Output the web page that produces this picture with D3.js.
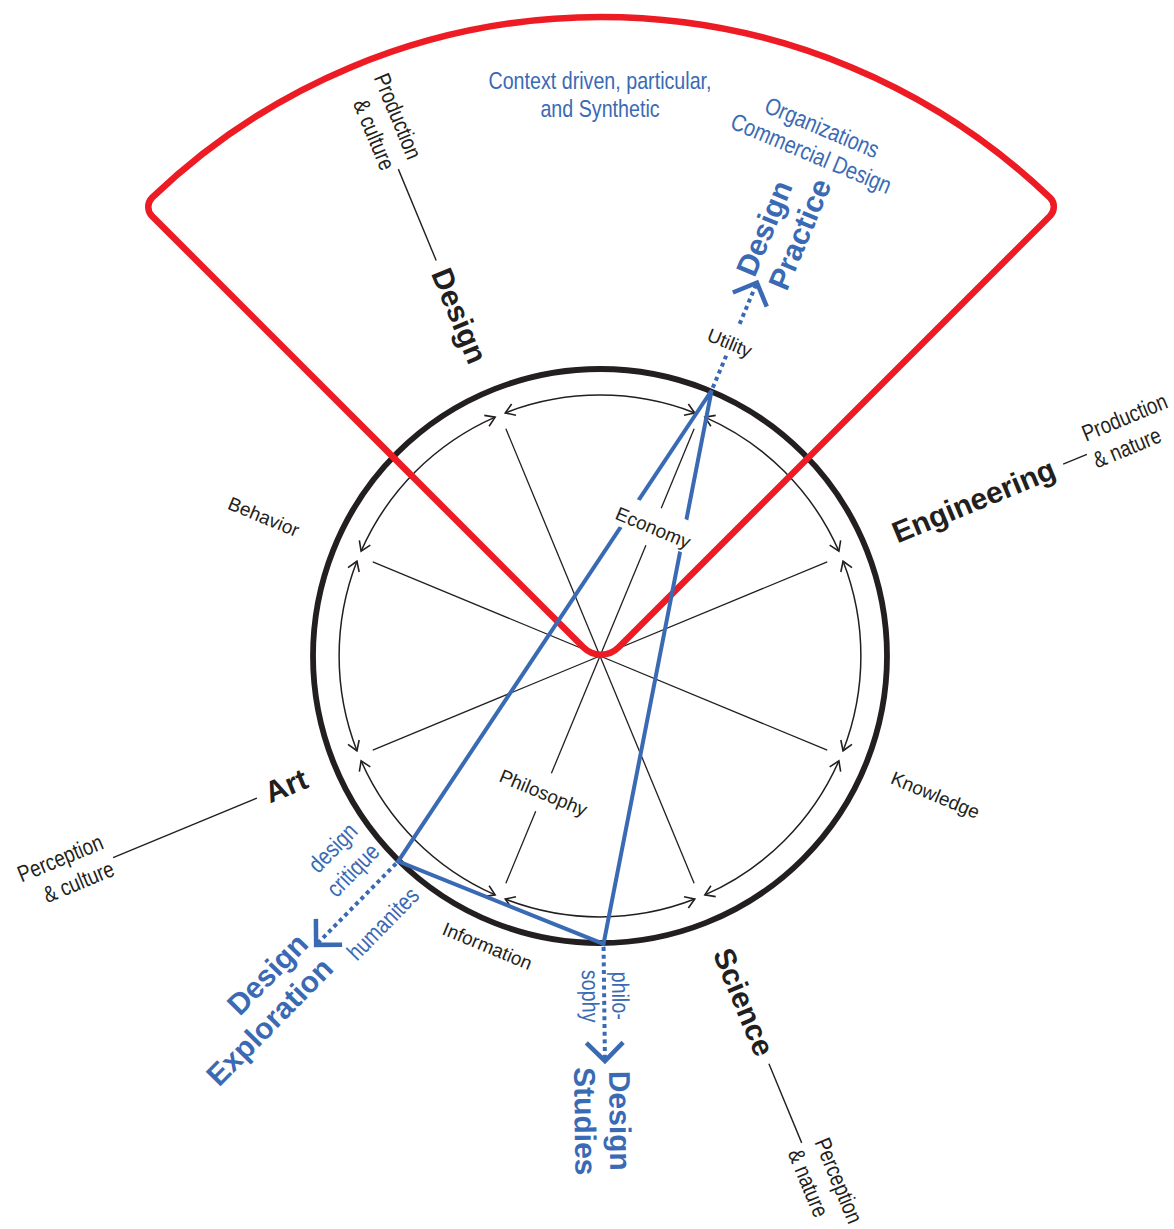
<!DOCTYPE html>
<html>
<head>
<meta charset="utf-8">
<script src="https://cdn.jsdelivr.net/npm/d3@7/dist/d3.min.js"></script>
<style>
html,body{margin:0;padding:0;background:#fff;}
svg{display:block;}
</style>
</head>
<body>
<svg id="chart" width="1174" height="1229"></svg>
<script>
// ---------------- data ----------------
const axisAngles = [22.5, 67.5, 112.5, 157.5, 202.5, 247.5, 292.5, 337.5];
const aspectLabels = ["Utility", "Economy", "Knowledge", "Information", "Philosophy", "Behavior"];
const aspectAngles = [22.5, 22.5, 112.5, 202.5, 202.5, 292.5];
const disciplineNames = ["Design", "Engineering", "Science", "Art"];
const disciplineAngles = [337.5, 67.5, 157.5, 247.5];
const disciplineTraits = [["Production", "& culture"], ["Production", "& nature"], ["Perception", "& nature"], ["Perception", "& culture"]];
const focusNames = [["Design", "Practice"], ["Design", "Exploration"], ["Design", "Studies"]];
const focusAngles = [22.8, 224.5, 179.3];
const focusNotesUpper = [["Organizations", "Commercial Design"], ["design", "critique"], ["philo-"]];
const focusNotesLower = [[], ["humanites"], ["sophy"]];
const sectorAngles = [-45, 45];
const sectorTitle = ["Context driven, particular,", "and Synthetic"];

// ---------------- layout ----------------
const svg = d3.select("#chart");
const cx = 600, cy = 656;
const BLACK = "#231f20", RED = "#ed1c24", BLUE = "#3a6ab4";
const SANS = "'Liberation Sans', Arial, Helvetica, sans-serif";
const toRad = d3.scaleLinear().domain([0, 360]).range([0, 2 * Math.PI]);
const rScale = d3.scaleLinear().domain([0, 1]).range([0, 287]);   // unit = outer ring
const R_OUT = rScale(1), R_IN = rScale(0.909), R_SPOKE = rScale(0.857);

function pt(a, r, c) { c = c || [cx, cy]; const t = toRad(a); return [c[0] + r * Math.sin(t), c[1] - r * Math.cos(t)]; }
function radialRot(a) { let r = a - 90; r = ((r % 360) + 360) % 360; if (r > 180) r -= 360; let flipped = false; if (r > 90) { r -= 180; flipped = true; } else if (r <= -90) { r += 180; flipped = true; } return { rot: r, flipped }; }
function tangRot(a) { let r = ((a % 360) + 360) % 360; if (r > 90 && r < 270) r -= 180; else if (r >= 270) r -= 360; return r; }

// narrow font detection
function hasFont(name) {
  const t = svg.append("text").attr("font-size", 40).text("Perception & culture abc");
  t.attr("font-family", "monospace"); const w1 = t.node().getComputedTextLength();
  t.attr("font-family", "'" + name + "', monospace"); const w2 = t.node().getComputedTextLength();
  t.remove(); return Math.abs(w1 - w2) > 0.5;
}
const narrowOK = hasFont("Liberation Sans Narrow");
const NARROW = narrowOK ? "'Liberation Sans Narrow', 'Arial Narrow', sans-serif" : SANS;
const NSCALE = narrowOK ? 1 : 0.82;

function narrowText(g, str, y, size, color, anchor) {
  return g.append("text").text(str)
    .attr("x", 0).attr("y", y)
    .attr("transform", "scale(" + NSCALE + ",1)")
    .attr("font-family", NARROW).attr("font-size", size)
    .attr("fill", color).attr("text-anchor", anchor || "middle");
}

// ---- outer ring
const gBase = svg.append("g");
gBase.append("circle").attr("cx", cx).attr("cy", cy).attr("r", R_OUT)
  .attr("fill", "none").attr("stroke", BLACK).attr("stroke-width", 5.8);

// ---- inner double-headed arcs
const gapDeg = 1.2;
function arrowHead(g, a, dir) {
  const tip = pt(a, R_IN);
  const t = toRad(a);
  const bx = -dir * Math.cos(t), by = -dir * Math.sin(t);
  const len = 11, s = toRad(33);
  const arm = q => [tip[0] + len * (bx * Math.cos(q) - by * Math.sin(q)), tip[1] + len * (bx * Math.sin(q) + by * Math.cos(q))];
  const p1 = arm(s), p2 = arm(-s);
  g.append("path").attr("d", "M" + p1 + "L" + tip + "L" + p2)
    .attr("fill", "none").attr("stroke", BLACK).attr("stroke-width", 1.6);
}
axisAngles.forEach((a, i) => {
  const b = axisAngles[(i + 1) % axisAngles.length] + (i === axisAngles.length - 1 ? 360 : 0);
  const a0 = a + gapDeg, a1 = b - gapDeg;
  const p = d3.path();
  p.arc(cx, cy, R_IN, toRad(a0 - 90), toRad(a1 - 90), false);
  gBase.append("path").attr("d", p.toString()).attr("fill", "none")
    .attr("stroke", BLACK).attr("stroke-width", 1.5);
  arrowHead(gBase, a0, -1);
  arrowHead(gBase, a1, 1);
});

// ---- spokes (with gaps for inner labels)
const spokeGaps = { 22.5: [120, 160], 202.5: [127, 168] };
axisAngles.forEach(a => {
  const gp = spokeGaps[a];
  const segs = gp ? [[0, gp[0]], [gp[1], R_SPOKE]] : [[0, R_SPOKE]];
  segs.forEach(sg => {
    const p0 = pt(a, sg[0]), p1 = pt(a, sg[1]);
    gBase.append("line").attr("x1", p0[0]).attr("y1", p0[1]).attr("x2", p1[0]).attr("y2", p1[1])
      .attr("stroke", BLACK).attr("stroke-width", 1.3);
  });
});

// ---- red sector (rounded)
(function () {
  const apex = [cx + 1, cy + 9];
  const Rs = 648, rcA = 25, rcO = 13;
  const L = pt(sectorAngles[0], Rs, apex), Rr = pt(sectorAngles[1], Rs, apex);
  const mL = pt(sectorAngles[0], Rs / 2, apex), mR = pt(sectorAngles[1], Rs / 2, apex);
  const tR = toRad(sectorAngles[1]);
  const tan = [-Math.cos(tR), -Math.sin(tR)];
  const dA = rcO / Rs;
  const p = d3.path();
  p.moveTo(mL[0], mL[1]);
  p.arcTo(apex[0], apex[1], mR[0], mR[1], rcA);
  p.arcTo(Rr[0], Rr[1], Rr[0] + 40 * tan[0], Rr[1] + 40 * tan[1], rcO);
  p.arc(apex[0], apex[1], Rs, toRad(sectorAngles[1] - 90) - dA, toRad(sectorAngles[0] - 90) + dA, true);
  p.arcTo(L[0], L[1], mL[0], mL[1], rcO);
  p.closePath();
  svg.append("path").attr("d", p.toString()).attr("fill", "none")
    .attr("stroke", RED).attr("stroke-width", 6.5).attr("stroke-linejoin", "round");
})();

// ---- blue triangle
const V = focusAngles.map(a => pt(a, 288));
svg.append("path").attr("d", "M" + V.join("L") + "Z").attr("fill", "none")
  .attr("stroke", BLUE).attr("stroke-width", 4).attr("stroke-linejoin", "miter");

// ---- aspect labels (black)
const aspectLayout = {
  Utility: { r: 339, mode: "tangential", knock: true },
  Economy: { r: 139, mode: "tangential", knock: true },
  Knowledge: { r: 363, mode: "radial" },
  Information: { r: 311, mode: "tangential", shift: 7 },
  Philosophy: { r: 148, mode: "tangential" },
  Behavior: { r: 364, mode: "radial" }
};
const gAsp = svg.append("g");
const dottedLayer = svg.insert("g", function () { return gAsp.node(); });
aspectLabels.forEach((lab, i) => {
  const a = aspectAngles[i], L = aspectLayout[lab];
  const c = pt(a, L.r);
  const rot = L.mode === "radial" ? radialRot(a).rot : tangRot(a);
  const g = gAsp.append("g").attr("transform", "translate(" + c + ") rotate(" + rot + ") translate(" + (L.shift || 0) + ",0)");
  const t = g.append("text").text(lab).attr("x", 0).attr("y", 0).attr("dy", "0.35em")
    .attr("text-anchor", "middle").attr("font-family", SANS).attr("font-size", 19).attr("fill", BLACK);
  if (L.knock) {
    const w = t.node().getComputedTextLength();
    g.insert("rect", "text").attr("x", -w / 2 - 4).attr("y", -20).attr("width", w + 8).attr("height", 32).attr("fill", "#fff");
  }
});

// ---- dotted extensions, chevrons, focus labels
const focusAnchor = [{ r: 408, mode: "inner" }, { r: 410, mode: "inner" }, { r: 465, mode: "middle" }];
focusAngles.forEach((a, i) => {
  const p0 = pt(a, 291), p1 = pt(a, 402);
  dottedLayer.append("line").attr("x1", p0[0]).attr("y1", p0[1]).attr("x2", p1[0]).attr("y2", p1[1])
    .attr("stroke", BLUE).attr("stroke-width", 4).attr("stroke-dasharray", "4 3.7");
  const tip = pt(a, 405);
  const t = toRad(a), ox = Math.sin(t), oy = -Math.cos(t);
  const len = 26, s = toRad(45);
  const arm = q => [tip[0] + len * (-ox * Math.cos(q) + oy * Math.sin(q)), tip[1] + len * (-ox * Math.sin(q) - oy * Math.cos(q))];
  svg.append("path").attr("d", "M" + arm(s) + "L" + tip + "L" + arm(-s)).attr("fill", "none")
    .attr("stroke", BLUE).attr("stroke-width", 4.5).attr("stroke-linejoin", "miter");

  // big label
  const rr = radialRot(a);
  const fa = focusAnchor[i];
  const anc = pt(a, fa.r);
  const g = svg.append("g").attr("transform", "translate(" + anc + ") rotate(" + rr.rot + ")");
  const offs = [-4, 31];
  const anchor = fa.mode === "middle" ? "middle" : (rr.flipped ? "end" : "start");
  focusNames[i].forEach((s2, k) => {
    g.append("text").text(s2).attr("x", 0).attr("y", offs[k])
      .attr("text-anchor", anchor)
      .attr("font-family", SANS).attr("font-weight", "bold").attr("font-size", 30).attr("fill", BLUE);
  });
});

// notes for Design Practice (tangential, outside)
(function () {
  const a = focusAngles[0];
  const rs = [565, 537];
  focusNotesUpper[0].forEach((s, k) => {
    const c = pt(a, rs[k]);
    const g = svg.append("g").attr("transform", "translate(" + c + ") rotate(" + tangRot(a) + ")");
    narrowText(g, s, 0, 24, BLUE, "middle");
  });
})();
// notes for Design Exploration (radial along the dotted line)
(function () {
  const a = focusAngles[1];
  const rr = radialRot(a);
  const upper = [{ r: 324, y: -48 }, { r: 326, y: -18 }];
  focusNotesUpper[1].forEach((s, k) => {
    const c = pt(a, upper[k].r);
    const g = svg.append("g").attr("transform", "translate(" + c + ") rotate(" + rr.rot + ")");
    narrowText(g, s, upper[k].y, 24, BLUE, "middle");
  });
  focusNotesLower[1].forEach(s => {
    const c = pt(a, 343);
    const g = svg.append("g").attr("transform", "translate(" + c + ") rotate(" + rr.rot + ")");
    narrowText(g, s, 41, 24, BLUE, "middle");
  });
})();
// notes for Design Studies
(function () {
  const a = focusAngles[2];
  const rr = radialRot(a);
  const c = pt(a, 340);
  const g = svg.append("g").attr("transform", "translate(" + c + ") rotate(" + rr.rot + ")");
  focusNotesUpper[2].forEach(s => narrowText(g, s, -8, 24, BLUE, "middle"));
  focusNotesLower[2].forEach(s => narrowText(g, s, 22, 24, BLUE, "middle"));
})();

// ---- sector title
sectorTitle.forEach((s, k) => {
  const g = svg.append("g").attr("transform", "translate(" + cx + "," + [89, 117][k] + ")");
  narrowText(g, s, 0, 24, BLUE, "middle");
});

// ---- discipline labels
disciplineNames.forEach((name, i) => {
  const a = disciplineAngles[i];
  const rr = radialRot(a);
  const rInner = 318;
  const g = svg.append("g").attr("transform", "translate(" + pt(a, rInner) + ") rotate(" + rr.rot + ")");
  const t = g.append("text").text(name).attr("x", 0).attr("y", 10)
    .attr("text-anchor", rr.flipped ? "end" : "start")
    .attr("font-family", SANS).attr("font-weight", "bold").attr("font-size", 30).attr("fill", BLACK);
  const len = t.node().getComputedTextLength();
  const c0 = pt(a, rInner + len + 10), c1 = pt(a, 527);
  svg.append("line").attr("x1", c0[0]).attr("y1", c0[1]).attr("x2", c1[0]).attr("y2", c1[1])
    .attr("stroke", BLACK).attr("stroke-width", 1.4);
  const g2 = svg.append("g").attr("transform", "translate(" + pt(a, 531) + ") rotate(" + rr.rot + ")");
  disciplineTraits[i].forEach((s, k) => {
    narrowText(g2, s, [-12, 17][k], 23, BLACK, rr.flipped ? "end" : "start");
  });
});
</script>
</body>
</html>
